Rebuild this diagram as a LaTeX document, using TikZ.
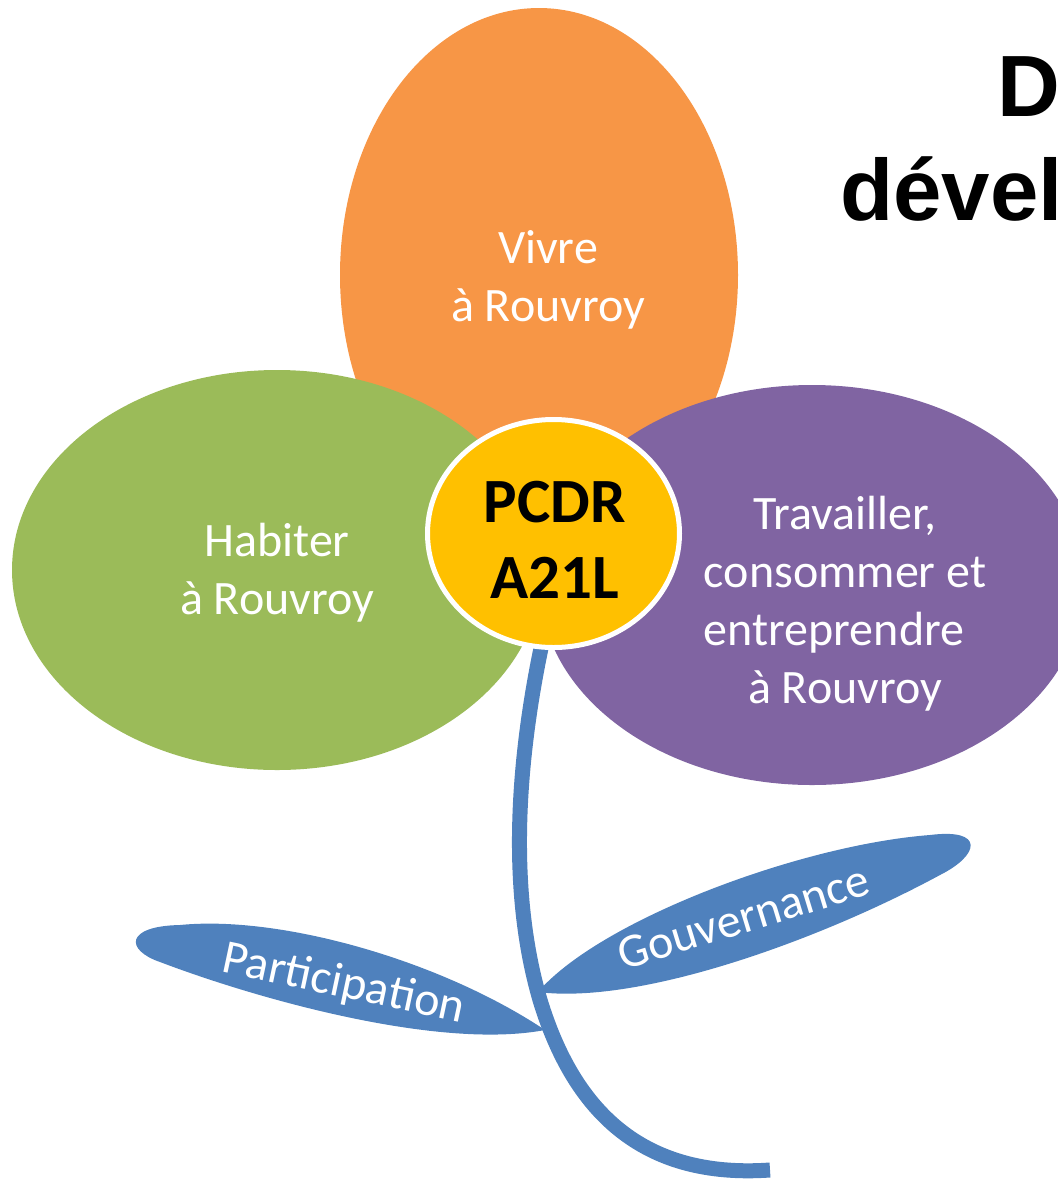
\documentclass[tikz,border=0pt]{standalone}
\usepackage{fontspec}
\setmainfont{Carlito}
\newfontfamily\titlefont{Liberation Sans}
\usetikzlibrary{shapes.geometric}
\definecolor{petalorange}{HTML}{F79646}
\definecolor{petalgreen}{HTML}{9BBB59}
\definecolor{petalpurple}{HTML}{8064A2}
\definecolor{coreyellow}{HTML}{FFC000}
\definecolor{leafblue}{HTML}{4F81BD}
\tikzset{
  petal/.style={ellipse, inner sep=0pt, outer sep=0pt, draw=none},
  lbl/.style={text=white, font=\fontsize{48}{58}\selectfont, align=center, inner sep=0pt},
  leaflbl/.style={text=white, font=\fontsize{48}{58}\selectfont, inner sep=0pt, anchor=base},
  leaf/.style={fill=leafblue},
  stemline/.style={draw=leafblue, line width=15pt},
  corelbl/.style={text=black, font=\bfseries\fontsize{63}{76}\selectfont, align=center, inner sep=0pt},
  titletext/.style={font=\titlefont\bfseries\fontsize{87}{92}\selectfont, inner sep=0pt, anchor=base west}
}
\begin{document}
\begin{tikzpicture}[x=1pt,y=-1pt]
\useasboundingbox (0,0) rectangle (1058,1187);
\clip (0,0) rectangle (1058,1187);
% petals
\node[petal, fill=petalorange, minimum width=398pt, minimum height=534pt] (vivre) at (539,275) {};
\node[petal, fill=petalgreen, minimum width=530pt, minimum height=400pt] (habiter) at (277,570) {};
\node[petal, fill=petalpurple, minimum width=544pt, minimum height=400pt] (travailler) at (812,585) {};
% leaves
\path[leaf] (545,1030) .. controls (440,960) and (280,915) .. (180,925)
  .. controls (125,926) and (125,950) .. (160,962)
  .. controls (260,1000) and (440,1050) .. (545,1030) -- cycle;
\path[leaf] (538,992) .. controls (600,920) and (800,845) .. (930,835)
  .. controls (985,828) and (980,855) .. (940,875)
  .. controls (820,940) and (640,1005) .. (538,992) -- cycle;
% stem
\coordinate (stemtop) at (546,625);
\coordinate (stemend) at (770,1170);
\draw[stemline] (stemtop) .. controls (520,740) and (505,880) .. (540,1000)
  .. controls (578,1125) and (655,1178) .. (stemend);
% core
\node[petal, fill=coreyellow, draw=white, line width=5pt, minimum width=252pt, minimum height=228pt] (core) at (553.5,533.5) {};
% labels
\node[lbl] (vivrelbl) at (548,280) {Vivre\\à Rouvroy};
\node[lbl] (habiterlbl) at (277,573) {Habiter\\à Rouvroy};
\node[lbl] (travlbl) at (845,604) {Travailler,\\consommer et\\entreprendre\rule{22pt}{0pt}\\à Rouvroy};
\node[corelbl] (corelbl) at (555,540) {PCDR\\A21L};
\node[leaflbl, rotate=-12] (partlbl) at (341,997) {Participation};
\node[leaflbl, rotate=17] (gouvlbl) at (748,932) {Gouvernance};
% title
\node[titletext] (title1) at (997,116) {D};
\node[titletext] (title2) at (840,220) {dével};
\end{tikzpicture}
\end{document}
